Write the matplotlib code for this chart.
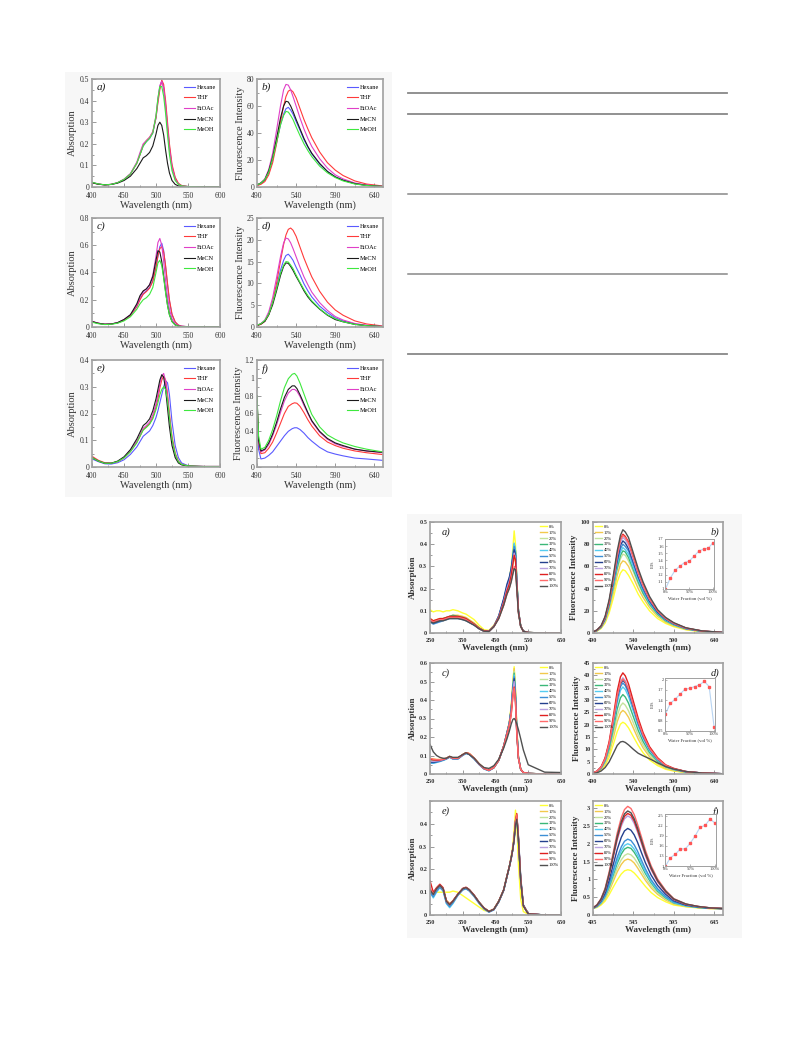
import matplotlib
matplotlib.use("Agg")
import matplotlib.pyplot as plt
from matplotlib.ticker import AutoMinorLocator, FuncFormatter
from matplotlib.patches import Rectangle
from matplotlib.lines import Line2D

plt.rcParams['font.family'] = ['Liberation Serif', 'DejaVu Serif']
plt.rcParams['mathtext.fontset'] = 'stix'

# ================= top-left figure: solvent series =================
solvents = ['Hexane', 'THF', 'EtOAc', 'MeCN', 'MeOH']
solvent_colors = ['#5a5aff', '#ff3a3a', '#e040c8', '#1a1a1a', '#3ee83e']

wl_abs_top = [400, 410, 420, 430, 440, 450, 460, 470, 475, 480, 485, 490, 495, 500, 503, 506,
              509, 512, 515, 518, 521, 525, 530, 535, 540, 550, 575, 600]
abs_a_top = [
    [.02, .013, .01, .012, .02, .035, .06, .11, .15, .19, .21, .225, .25, .32, .40, .465, .49, .46, .38, .28, .185, .095, .04, .015, .006, .002, 0, 0],
    [.02, .013, .01, .012, .02, .035, .06, .11, .15, .195, .215, .23, .255, .32, .39, .45, .495, .475, .40, .30, .20, .105, .045, .017, .007, .002, 0, 0],
    [.022, .014, .01, .012, .02, .036, .062, .115, .16, .20, .215, .23, .255, .33, .41, .47, .49, .455, .37, .27, .175, .09, .035, .013, .005, .002, 0, 0],
    [.02, .013, .01, .012, .018, .03, .05, .085, .11, .135, .145, .16, .19, .245, .285, .30, .285, .24, .17, .11, .065, .03, .012, .005, .002, 0, 0, 0],
    [.022, .014, .01, .012, .02, .035, .06, .11, .15, .19, .21, .225, .25, .33, .41, .465, .465, .42, .34, .24, .15, .075, .03, .012, .005, .002, 0, 0],
]
abs_c_top = [
    [.04, .027, .02, .022, .03, .05, .085, .15, .205, .245, .265, .29, .34, .44, .52, .59, .615, .56, .44, .31, .19, .09, .035, .013, .006, .002, 0, 0],
    [.04, .027, .02, .022, .03, .05, .085, .15, .20, .24, .26, .285, .335, .44, .52, .575, .59, .55, .45, .32, .20, .095, .038, .014, .006, .002, 0, 0],
    [.04, .028, .02, .022, .032, .055, .09, .16, .22, .26, .28, .31, .38, .52, .62, .65, .60, .48, .34, .22, .13, .06, .022, .01, .005, .002, 0, 0],
    [.04, .027, .02, .022, .032, .055, .09, .17, .23, .265, .28, .31, .37, .49, .56, .55, .48, .37, .26, .16, .09, .04, .015, .006, .003, .001, 0, 0],
    [.035, .024, .018, .02, .028, .045, .075, .13, .17, .20, .215, .24, .29, .40, .47, .49, .45, .36, .25, .16, .09, .04, .015, .006, .003, .001, 0, 0],
]
abs_e_top = [
    [.03, .02, .012, .011, .016, .027, .047, .075, .095, .115, .125, .135, .155, .185, .21, .24, .27, .30, .322, .315, .27, .17, .08, .035, .015, .005, .002, .002],
    [.04, .025, .016, .015, .02, .034, .058, .093, .115, .14, .15, .162, .185, .225, .255, .295, .325, .34, .325, .275, .20, .115, .052, .022, .01, .004, .002, .002],
    [.035, .022, .014, .014, .02, .035, .06, .097, .12, .145, .155, .168, .195, .235, .27, .31, .34, .35, .32, .26, .18, .10, .045, .02, .01, .004, .002, .002],
    [.035, .022, .014, .014, .022, .038, .065, .105, .13, .155, .165, .18, .21, .255, .29, .325, .345, .335, .29, .22, .15, .08, .035, .015, .008, .003, .001, .001],
    [.035, .022, .014, .014, .02, .034, .057, .09, .115, .138, .148, .16, .18, .215, .24, .27, .29, .30, .29, .25, .185, .105, .048, .02, .01, .004, .002, .002],
]

wl_fl_top = [490, 495, 500, 505, 510, 515, 520, 524, 527, 530, 533, 536, 540, 545, 550, 555,
             560, 570, 580, 590, 600, 615, 630, 650]
fl_b_top = [
    [1.2, 2.5, 5, 10.5, 20, 33, 46, 54, 58, 59, 57, 54, 48.5, 42, 35, 29.5, 24.5, 17, 11.5, 7.5, 5, 2.5, 1.2, 0.4],
    [1, 2, 4, 9, 18, 32, 48, 60, 67, 71, 72, 70.5, 66, 58, 50, 43, 36.5, 26, 18, 12.5, 8.5, 4.5, 2.2, 0.8],
    [1.5, 3, 6, 13, 25, 42, 60, 72, 76, 75.5, 72, 67, 60, 51, 43, 36, 30, 21, 14, 9, 6, 3, 1.5, 0.5],
    [1.5, 3, 5.5, 12, 22, 36, 51, 60, 63.5, 63, 60, 56, 50, 43, 36, 30, 25, 17.5, 11.5, 7.5, 5, 2.5, 1.2, 0.4],
    [1.5, 2.8, 5.5, 11, 21, 33, 46, 53, 56, 55.5, 53, 50, 44.5, 38, 32, 27, 22.5, 15.5, 10.5, 7, 4.5, 2.2, 1.1, 0.4],
]
fl_d_top = [
    [0.35, 0.7, 1.4, 3, 5.7, 9.3, 13, 15.3, 16.4, 16.7, 16.1, 15.3, 13.7, 11.9, 9.9, 8.3, 6.9, 4.8, 3.3, 2.1, 1.4, 0.7, 0.35, 0.1],
    [0.3, 0.6, 1.3, 2.8, 5.7, 10.1, 15.1, 18.9, 21.1, 22.4, 22.7, 22.2, 20.8, 18.3, 15.8, 13.6, 11.5, 8.2, 5.7, 3.9, 2.7, 1.4, 0.7, 0.25],
    [0.4, 0.8, 1.6, 3.5, 6.7, 11.3, 16.1, 19.3, 20.4, 20.2, 19.3, 18, 16.1, 13.7, 11.5, 9.7, 8, 5.6, 3.8, 2.4, 1.6, 0.8, 0.4, 0.15],
    [0.35, 0.7, 1.3, 2.8, 5.1, 8.3, 11.8, 13.9, 14.7, 14.6, 13.9, 13, 11.6, 10, 8.3, 6.9, 5.8, 4.1, 2.7, 1.7, 1.2, 0.6, 0.3, 0.1],
    [0.4, 0.75, 1.5, 2.9, 5.6, 8.8, 12.3, 14.2, 15, 14.9, 14.2, 13.4, 11.9, 10.2, 8.6, 7.2, 6, 4.2, 2.8, 1.9, 1.2, 0.6, 0.3, 0.1],
]
wl_fl_f_top = [490, 492, 495, 500, 505, 510, 515, 520, 525, 530, 535, 538, 541, 545, 550, 555,
               560, 570, 580, 590, 600, 615, 630, 650]
fl_f_top = [
    [.7, .2, .09, .1, .13, .17, .23, .29, .35, .4, .43, .44, .44, .42, .38, .33, .29, .22, .17, .145, .125, .1, .09, .075],
    [.75, .28, .15, .16, .21, .28, .38, .49, .6, .68, .71, .72, .715, .68, .61, .53, .46, .35, .28, .24, .21, .18, .16, .14],
    [.8, .3, .17, .19, .25, .35, .47, .61, .74, .83, .87, .87, .85, .79, .69, .6, .51, .39, .31, .26, .23, .2, .18, .16],
    [.8, .3, .18, .2, .27, .37, .5, .65, .78, .87, .91, .91, .88, .81, .71, .61, .52, .4, .32, .27, .24, .2, .18, .165],
    [.8, .35, .2, .22, .3, .42, .57, .74, .89, .99, 1.04, 1.05, 1.02, .94, .82, .7, .59, .45, .36, .31, .27, .23, .2, .17],
]

# ================= bottom-right figure: water fraction series =================
water_labels = ['0%', '10%', '20%', '30%', '40%', '50%', '60%', '70%', '80%', '90%', '100%']
water_colors = ['#ffff33', '#f2c94c', '#c3e39c', '#3bb878', '#55ccf0', '#3d8fd6',
                '#24408e', '#b9a2e0', '#e02020', '#ff6a6a', '#505050']

wl_abs_bot = [250, 260, 270, 280, 290, 300, 310, 320, 335, 350, 360, 370, 385, 400, 415, 430,
              445, 460, 475, 485, 492, 498, 503, 507, 511, 515, 520, 527, 535, 550, 600, 650]
abs_a_bot = [
    [.105, .095, .10, .10, .095, .10, .10, .105, .10, .09, .085, .075, .06, .035, .015, .012, .035, .075, .14, .20, .24, .30, .38, .46, .40, .25, .10, .03, .008, .002, 0, 0],
    [.065, .055, .06, .065, .065, .07, .075, .08, .08, .075, .07, .06, .045, .025, .01, .008, .03, .07, .13, .19, .225, .27, .31, .34, .32, .22, .10, .03, .008, .002, 0, 0],
    [.06, .05, .055, .06, .06, .065, .07, .075, .075, .07, .065, .055, .04, .022, .01, .008, .03, .07, .13, .19, .22, .27, .33, .40, .37, .24, .10, .03, .008, .002, 0, 0],
    [.065, .05, .055, .06, .065, .07, .075, .08, .075, .07, .065, .055, .04, .022, .01, .008, .03, .07, .14, .2, .23, .28, .34, .40, .37, .24, .10, .03, .008, .002, 0, 0],
    [.055, .045, .05, .055, .06, .065, .07, .07, .07, .065, .06, .05, .037, .02, .008, .007, .03, .075, .15, .21, .24, .29, .35, .405, .37, .24, .10, .03, .008, .002, 0, 0],
    [.05, .04, .045, .05, .055, .06, .065, .065, .065, .06, .055, .047, .035, .019, .008, .007, .03, .075, .15, .21, .245, .29, .35, .39, .36, .235, .10, .03, .008, .002, 0, 0],
    [.055, .045, .05, .055, .06, .065, .07, .07, .07, .065, .06, .05, .037, .02, .008, .007, .03, .078, .155, .22, .25, .29, .34, .375, .35, .23, .10, .03, .008, .002, 0, 0],
    [.06, .05, .055, .06, .06, .065, .07, .07, .07, .065, .06, .05, .037, .02, .008, .007, .03, .072, .14, .2, .23, .27, .32, .36, .34, .225, .10, .03, .008, .002, 0, 0],
    [.065, .055, .06, .065, .065, .07, .075, .075, .075, .07, .065, .055, .04, .022, .01, .008, .03, .07, .135, .19, .22, .26, .31, .35, .33, .22, .10, .03, .008, .002, 0, 0],
    [.06, .05, .055, .06, .06, .065, .07, .07, .07, .065, .06, .05, .037, .02, .008, .007, .028, .065, .125, .175, .2, .235, .27, .30, .29, .2, .09, .03, .008, .002, 0, 0],
    [.05, .045, .05, .055, .055, .06, .065, .065, .065, .06, .055, .047, .035, .019, .008, .007, .028, .065, .125, .175, .2, .23, .265, .29, .285, .2, .09, .03, .008, .002, 0, 0],
]
abs_c_bot = [
    [.08, .08, .078, .078, .08, .085, .095, .085, .085, .105, .115, .11, .085, .055, .03, .02, .035, .075, .15, .225, .28, .37, .50, .58, .46, .25, .09, .025, .008, .003, 0, 0],
    [.085, .08, .078, .078, .08, .085, .095, .085, .085, .105, .115, .11, .085, .055, .03, .02, .035, .075, .15, .22, .275, .36, .49, .57, .45, .25, .09, .025, .008, .003, 0, 0],
    [.075, .072, .072, .074, .078, .084, .094, .084, .084, .104, .114, .108, .084, .054, .03, .02, .035, .075, .15, .22, .27, .355, .48, .555, .44, .245, .09, .025, .008, .003, 0, 0],
    [.07, .068, .07, .072, .077, .083, .093, .083, .083, .103, .113, .107, .083, .053, .029, .019, .035, .075, .15, .22, .27, .35, .47, .545, .43, .24, .09, .025, .008, .003, 0, 0],
    [.06, .058, .062, .067, .073, .08, .09, .08, .08, .1, .11, .105, .08, .05, .027, .017, .033, .073, .148, .218, .268, .345, .465, .535, .425, .24, .09, .025, .008, .003, 0, 0],
    [.06, .06, .064, .069, .075, .082, .092, .082, .082, .102, .112, .106, .082, .052, .028, .018, .034, .074, .15, .22, .27, .345, .46, .525, .42, .235, .09, .025, .008, .003, 0, 0],
    [.065, .064, .067, .071, .076, .083, .093, .083, .083, .103, .113, .107, .083, .053, .029, .019, .035, .075, .152, .225, .275, .35, .46, .515, .41, .23, .09, .025, .008, .003, 0, 0],
    [.07, .068, .07, .072, .077, .083, .093, .083, .083, .103, .113, .107, .083, .053, .029, .019, .035, .075, .15, .22, .27, .34, .45, .50, .40, .225, .085, .025, .008, .003, 0, 0],
    [.08, .076, .075, .076, .079, .085, .095, .085, .085, .105, .115, .11, .085, .055, .03, .02, .035, .075, .15, .215, .26, .325, .42, .47, .39, .22, .085, .025, .008, .003, 0, 0],
    [.085, .08, .078, .078, .08, .085, .095, .085, .085, .105, .115, .11, .085, .055, .03, .02, .035, .075, .148, .212, .258, .32, .415, .465, .385, .22, .085, .025, .008, .003, 0, 0],
    [.16, .12, .10, .09, .085, .085, .095, .09, .09, .105, .115, .105, .085, .055, .035, .03, .045, .08, .14, .19, .23, .27, .295, .30, .29, .27, .24, .19, .13, .05, .01, .008],
]
abs_e_bot = [
    [.10, .095, .10, .10, .10, .10, .10, .105, .10, .085, .075, .065, .05, .035, .02, .015, .025, .06, .11, .17, .21, .26, .31, .38, .46, .40, .22, .07, .015, .003, 0, 0],
    [.105, .092, .11, .125, .112, .065, .05, .063, .09, .112, .117, .108, .084, .055, .03, .016, .026, .06, .11, .17, .21, .25, .29, .34, .41, .44, .33, .15, .04, .005, 0, 0],
    [.10, .088, .11, .125, .11, .06, .045, .06, .09, .113, .118, .109, .084, .055, .03, .015, .025, .06, .11, .17, .21, .25, .29, .34, .41, .435, .33, .15, .04, .005, 0, 0],
    [.105, .09, .115, .13, .115, .06, .045, .06, .09, .115, .12, .11, .085, .055, .03, .015, .025, .06, .11, .17, .21, .25, .29, .34, .41, .43, .33, .15, .04, .005, 0, 0],
    [.10, .075, .10, .12, .105, .05, .032, .05, .085, .11, .115, .105, .08, .05, .026, .012, .022, .057, .107, .167, .207, .247, .287, .337, .405, .43, .335, .155, .042, .005, 0, 0],
    [.10, .08, .105, .122, .108, .053, .037, .054, .087, .11, .115, .106, .082, .052, .027, .013, .023, .058, .108, .168, .208, .248, .288, .338, .405, .43, .335, .155, .042, .005, 0, 0],
    [.11, .09, .115, .13, .115, .06, .045, .06, .09, .115, .12, .11, .085, .055, .03, .015, .024, .058, .108, .168, .21, .252, .29, .33, .40, .435, .345, .165, .045, .006, 0, 0],
    [.11, .09, .115, .13, .115, .06, .045, .06, .09, .115, .12, .11, .085, .055, .03, .015, .025, .06, .11, .17, .21, .25, .29, .34, .41, .435, .335, .152, .04, .005, 0, 0],
    [.15, .10, .12, .135, .12, .063, .048, .062, .092, .117, .122, .112, .087, .056, .031, .016, .026, .061, .111, .171, .211, .251, .291, .341, .415, .445, .34, .155, .042, .005, 0, 0],
    [.12, .092, .115, .13, .115, .06, .045, .06, .09, .115, .12, .11, .085, .055, .03, .015, .025, .06, .11, .17, .21, .25, .29, .34, .41, .44, .335, .15, .04, .005, 0, 0],
    [.11, .09, .115, .13, .115, .06, .045, .06, .09, .115, .12, .11, .085, .055, .03, .015, .025, .06, .11, .17, .21, .25, .29, .33, .395, .42, .33, .15, .04, .005, 0, 0],
]

wl_fl_bot = [490, 495, 500, 505, 510, 515, 520, 524, 527, 530, 534, 540, 546, 552, 560, 570, 580, 590, 605, 625, 651]
fl_b_bot = [
    [0.6, 1.7, 4, 9, 18, 31, 46, 54, 57, 56, 52, 44, 35, 28, 20, 13, 8.6, 5.7, 2.9, 1.1, 0.3],
    [0.7, 2, 4.6, 10, 21, 36, 52, 62, 65, 64, 60, 50, 40, 32, 23, 15, 9.8, 6.5, 3.3, 1.3, 0.3],
    [0.7, 2.1, 5, 11, 23, 39, 57, 67, 71, 70, 65, 55, 44, 35, 25, 16, 10.7, 7.1, 3.6, 1.4, 0.4],
    [0.7, 2.2, 5.2, 12, 24, 41, 59, 70, 74, 73, 68, 57, 46, 36, 26, 17, 11, 7.4, 3.7, 1.5, 0.4],
    [0.8, 2.3, 5.4, 12, 25, 42, 62, 73, 77, 75, 71, 59, 48, 38, 27, 18, 11.6, 7.7, 3.9, 1.5, 0.4],
    [0.8, 2.4, 5.6, 13, 26, 44, 64, 76, 80, 78, 74, 62, 50, 39, 28, 18, 12, 8, 4, 1.6, 0.4],
    [0.8, 2.5, 5.8, 13, 27, 46, 66, 79, 83, 81, 76, 64, 51, 41, 29, 19, 12.5, 8.3, 4.2, 1.7, 0.4],
    [0.9, 2.6, 6, 14, 28, 47, 69, 82, 86, 84, 79, 66, 53, 42, 30, 20, 13, 8.6, 4.3, 1.7, 0.4],
    [0.9, 2.7, 6.2, 14, 28, 49, 71, 85, 89, 87, 82, 69, 55, 44, 31, 20, 13.4, 8.9, 4.5, 1.8, 0.4],
    [0.9, 2.6, 6.2, 14, 28, 48, 70, 84, 88, 86, 81, 68, 55, 43, 31, 20, 13.2, 8.8, 4.4, 1.8, 0.4],
    [0.9, 2.8, 6.5, 15, 30, 51, 74, 88, 93, 91, 86, 72, 58, 46, 33, 21, 14, 9.3, 4.7, 1.9, 0.5],
]
fl_d_bot = [
    [.2, .6, 1.5, 3.4, 6.7, 11.8, 17.2, 20.2, 21, 20.4, 18.7, 15.1, 11.6, 8.6, 5.7, 3.4, 1.9, 1.2, .5, .2, .1],
    [.3, .8, 1.8, 4.1, 8.3, 14.4, 21.2, 24.8, 25.8, 25, 23, 18.6, 14.2, 10.6, 7, 4.1, 2.3, 1.4, .6, .3, .1],
    [.3, .9, 2, 4.6, 9.2, 16.1, 23.6, 27.6, 28.8, 27.9, 25.6, 20.7, 15.8, 11.8, 7.8, 4.6, 2.6, 1.6, .7, .3, .1],
    [.3, 1, 2.3, 5.2, 10.3, 18, 26.4, 30.9, 32.2, 31.2, 28.7, 23.2, 17.7, 13.2, 8.7, 5.2, 2.9, 1.8, .8, .3, .1],
    [.4, 1.1, 2.5, 5.6, 11.3, 19.8, 28.9, 33.9, 35.3, 34.2, 31.4, 25.4, 19.4, 14.5, 9.5, 5.6, 3.2, 1.9, .9, .4, .1],
    [.4, 1.1, 2.6, 5.9, 11.8, 20.7, 30.3, 35.4, 36.9, 35.8, 32.8, 26.6, 20.3, 15.1, 10, 5.9, 3.3, 2, .9, .4, .1],
    [.4, 1.1, 2.7, 6.1, 12.2, 21.3, 31.2, 36.5, 38, 36.9, 33.8, 27.4, 20.9, 15.6, 10.3, 6.1, 3.4, 2.1, 1, .4, .1],
    [.4, 1.2, 2.7, 6.2, 12.5, 21.8, 32, 37.4, 39, 37.8, 34.7, 28.1, 21.5, 16, 10.5, 6.2, 3.5, 2.1, 1, .4, .1],
    [.4, 1.2, 2.9, 6.6, 13.1, 23, 33.6, 39.4, 41, 39.8, 36.5, 29.5, 22.6, 16.8, 11.1, 6.6, 3.7, 2.3, 1, .4, .1],
    [.4, 1.2, 2.7, 6.2, 12.3, 21.6, 31.6, 37, 38.5, 37.3, 34.3, 27.7, 21.2, 15.8, 10.4, 6.2, 3.5, 2.1, 1, .4, .1],
    [.2, .5, 1.2, 2.6, 4.9, 8.2, 11.6, 13, 13.2, 12.8, 11.8, 10, 8.4, 7.4, 6.2, 4.5, 3, 2, 1, .4, .1],
]
wl_fl_f_bot = [495, 500, 505, 510, 515, 520, 525, 530, 534, 538, 542, 546, 550, 555, 560, 567, 575, 585, 595, 610, 625, 640, 656]
fl_f_bot = [
    [.18, .21, .28, .39, .57, .78, .98, 1.15, 1.24, 1.27, 1.25, 1.18, 1.08, .94, .80, .63, .49, .37, .28, .23, .20, .18, .18],
    [.18, .23, .31, .45, .67, .94, 1.21, 1.42, 1.53, 1.57, 1.54, 1.46, 1.33, 1.15, .97, .76, .58, .42, .31, .24, .21, .18, .18],
    [.19, .23, .33, .48, .73, 1.02, 1.32, 1.55, 1.67, 1.72, 1.69, 1.60, 1.46, 1.26, 1.05, .82, .62, .45, .33, .25, .21, .19, .18],
    [.19, .24, .34, .52, .79, 1.12, 1.45, 1.71, 1.85, 1.9, 1.87, 1.76, 1.61, 1.38, 1.16, .90, .67, .48, .34, .26, .21, .19, .18],
    [.19, .24, .35, .54, .83, 1.18, 1.52, 1.80, 1.95, 2.0, 1.96, 1.85, 1.69, 1.45, 1.21, .94, .70, .50, .35, .26, .22, .19, .18],
    [.19, .25, .37, .56, .88, 1.25, 1.62, 1.91, 2.07, 2.13, 2.09, 1.97, 1.80, 1.54, 1.29, .99, .74, .52, .37, .27, .22, .19, .18],
    [.19, .26, .40, .62, .98, 1.41, 1.84, 2.18, 2.36, 2.43, 2.38, 2.25, 2.05, 1.75, 1.46, 1.12, .83, .58, .40, .28, .23, .19, .18],
    [.2, .27, .43, .69, 1.11, 1.61, 2.10, 2.49, 2.70, 2.78, 2.73, 2.57, 2.34, 2.0, 1.66, 1.27, .93, .64, .43, .3, .24, .2, .18],
    [.2, .28, .44, .71, 1.13, 1.64, 2.15, 2.56, 2.77, 2.85, 2.80, 2.64, 2.39, 2.05, 1.70, 1.30, .95, .65, .44, .3, .24, .2, .18],
    [.2, .29, .46, .75, 1.21, 1.75, 2.30, 2.73, 2.96, 3.05, 2.99, 2.82, 2.56, 2.19, 1.81, 1.38, 1.01, .69, .46, .31, .24, .2, .18],
    [.2, .28, .45, .72, 1.16, 1.68, 2.21, 2.62, 2.84, 2.92, 2.87, 2.70, 2.45, 2.10, 1.74, 1.33, .97, .67, .45, .31, .24, .2, .18],
]

water_frac = [0, 10, 20, 30, 40, 50, 60, 70, 80, 90, 100]
ef_b = [1.0, 1.15, 1.26, 1.32, 1.37, 1.39, 1.46, 1.53, 1.56, 1.57, 1.65]
ef_d = [1.0, 1.31, 1.43, 1.58, 1.72, 1.75, 1.8, 1.85, 1.95, 1.8, 0.63]
ef_f = [1.0, 1.25, 1.35, 1.51, 1.51, 1.68, 1.9, 2.16, 2.21, 2.4, 2.28]

# ================= layout =================
W, H = 792, 1056
fig = plt.figure(figsize=(W / 100, H / 100), dpi=100)


def box(x0, y0, x1, y1):
    return [x0 / W, 1 - y1 / H, (x1 - x0) / W, (y1 - y0) / H]


# light page-figure backgrounds (behind everything)
fig.patches.append(Rectangle((65 / W, 1 - 497 / H), (392 - 65) / W, (497 - 72) / H,
                             transform=fig.transFigure, facecolor='#f7f7f7', edgecolor='none', zorder=-10))
fig.patches.append(Rectangle((407 / W, 1 - 938 / H), (742 - 407) / W, (938 - 514) / H,
                             transform=fig.transFigure, facecolor='#f7f7f7', edgecolor='none', zorder=-10))

# table rules (top right)
for yy, lw in [(92.7, 1.3), (113.7, 1.3), (193.7, 1.1), (274, 1.1), (354, 1.3)]:
    fig.add_artist(Line2D([408 / W, 727 / W], [1 - yy / H, 1 - yy / H], transform=fig.transFigure,
                          color='#888888', lw=lw))

fmt = FuncFormatter(lambda v, p: '%g' % round(v, 6))


def style(ax, xlim, xticks, ylim, yticks, tick_fs, label_fs, xlabel, ylabel, bold=False,
          spine_lw=1.2, ylabelpad=2):
    ax.set_xlim(xlim)
    ax.set_ylim(ylim)
    ax.set_xticks(xticks)
    ax.set_yticks(yticks)
    ax.xaxis.set_minor_locator(AutoMinorLocator(2))
    ax.yaxis.set_minor_locator(AutoMinorLocator(2))
    ax.xaxis.set_major_formatter(fmt)
    ax.yaxis.set_major_formatter(fmt)
    ax.tick_params(which='both', direction='in', color='#999999', labelsize=tick_fs,
                   labelcolor='#333333', width=0.7)
    ax.tick_params(axis='x', which='both', pad=3.5)
    ax.tick_params(axis='y', which='both', pad=2)
    ax.tick_params(which='major', length=3)
    ax.tick_params(which='minor', length=1.6)
    w = 'bold' if bold else 'normal'
    for lab in ax.get_xticklabels() + ax.get_yticklabels():
        lab.set_fontweight(w)
    for s in ax.spines.values():
        s.set_color('#a0a0a0')
        s.set_linewidth(spine_lw)
    ax.set_xlabel(xlabel, fontsize=label_fs, labelpad=0.5, color='#333333', fontweight=w)
    ax.set_ylabel(ylabel, fontsize=label_fs, labelpad=ylabelpad, color='#333333', fontweight=w)


# ---------- top-left figure ----------
top_boxes = {
    'a': (92, 79, 220, 187), 'b': (257, 79, 383, 187),
    'c': (92, 218, 220, 327), 'd': (257, 218, 383, 327),
    'e': (92, 360, 220, 467), 'f': (257, 360, 383, 467),
}
top_specs = [
    ('a', wl_abs_top, abs_a_top, (400, 600), [400, 450, 500, 550, 600], (0, 0.5), [0, .1, .2, .3, .4, .5], 'Absorption'),
    ('b', wl_fl_top, fl_b_top, (490, 651), [490, 540, 590, 640], (0, 80), [0, 20, 40, 60, 80], 'Fluorescence Intensity'),
    ('c', wl_abs_top, abs_c_top, (400, 600), [400, 450, 500, 550, 600], (0, 0.8), [0, .2, .4, .6, .8], 'Absorption'),
    ('d', wl_fl_top, fl_d_top, (490, 651), [490, 540, 590, 640], (0, 25), [0, 5, 10, 15, 20, 25], 'Fluorescence Intensity'),
    ('e', wl_abs_top, abs_e_top, (400, 600), [400, 450, 500, 550, 600], (0, 0.4), [0, .1, .2, .3, .4], 'Absorption'),
    ('f', wl_fl_f_top, fl_f_top, (490, 651), [490, 540, 590, 640], (0, 1.2), [0, .2, .4, .6, .8, 1.0, 1.2], 'Fluorescence Intensity'),
]
for key, wl, rows, xl, xt, yl, yt, ylab in top_specs:
    ax = fig.add_axes(box(*top_boxes[key]))
    for name, col, vals in zip(solvents, solvent_colors, rows):
        ax.plot(wl, vals, color=col, lw=0.8, label=name)
    style(ax, xl, xt, yl, yt, 5.5, 7.5, 'Wavelength (nm)', ylab,
          ylabelpad=1 if key in ('b', 'd', 'f') else 2)
    ax.text(0.04, 0.965, key + ')', transform=ax.transAxes, fontsize=8, style='italic',
            va='top', ha='left', color='#222222')
    ax.legend(loc='upper right', bbox_to_anchor=(1.0, 0.985), fontsize=4.5, frameon=False,
              handlelength=1.7, handletextpad=0.4, labelspacing=0.85, borderaxespad=0.2)

# ---------- bottom-right figure ----------
bot_boxes = {
    'a': (430, 522, 561, 633), 'b': (593, 522, 723, 633),
    'c': (430, 663, 561, 774), 'd': (593, 663, 723, 774),
    'e': (430, 801, 561, 915), 'f': (593, 801, 723, 915),
}
abs_xt = [250, 350, 450, 550, 650]
bot_specs = [
    ('a', wl_abs_bot, abs_a_bot, (250, 650), abs_xt, (0, 0.5), [0, .1, .2, .3, .4, .5], 'Absorption'),
    ('b', wl_fl_bot, fl_b_bot, (490, 651), [490, 540, 590, 640], (0, 100), [0, 20, 40, 60, 80, 100], 'Fluorescence Intensity'),
    ('c', wl_abs_bot, abs_c_bot, (250, 650), abs_xt, (0, 0.6), [0, .1, .2, .3, .4, .5, .6], 'Absorption'),
    ('d', wl_fl_bot, fl_d_bot, (490, 651), [490, 540, 590, 640], (0, 45), [0, 5, 10, 15, 20, 25, 30, 35, 40, 45], 'Fluorescence Intensity'),
    ('e', wl_abs_bot, abs_e_bot, (250, 650), abs_xt, (0, 0.5), [0, .1, .2, .3, .4], 'Absorption'),
    ('f', wl_fl_f_bot, fl_f_bot, (495, 656), [495, 545, 595, 645], (0, 3.2), [0, .5, 1, 1.5, 2, 2.5, 3], 'Fluorescence Intensity'),
]
for key, wl, rows, xl, xt, yl, yt, ylab in bot_specs:
    ax = fig.add_axes(box(*bot_boxes[key]))
    for name, col, vals in zip(water_labels, water_colors, rows):
        ax.plot(wl, vals, color=col, lw=1.0, label=name)
    style(ax, xl, xt, yl, yt, 4.5, 6.5, 'Wavelength (nm)', ylab, bold=True)
    left = key in ('a', 'c', 'e')
    if left:
        ax.text(0.09, 0.95, key + ')', transform=ax.transAxes, fontsize=7.5, style='italic',
                va='top', ha='left', color='#222222')
        ax.legend(loc='upper right', bbox_to_anchor=(1.0, 1.0), fontsize=3.2, frameon=False,
                  handlelength=1.4, handletextpad=0.4, labelspacing=0.42, borderaxespad=0.15)
    else:
        ax.text(0.97, 0.95, key + ')', transform=ax.transAxes, fontsize=7.5, style='italic',
                va='top', ha='right', color='#222222')
        ax.legend(loc='upper left', bbox_to_anchor=(0.0, 1.0), fontsize=3.2, frameon=False,
                  handlelength=1.4, handletextpad=0.4, labelspacing=0.42, borderaxespad=0.15)

# insets
inset_specs = [
    ((665, 539, 714, 589), ef_b, (1.0, 1.7), [1, 1.1, 1.2, 1.3, 1.4, 1.5, 1.6, 1.7]),
    ((665, 678, 715, 731), ef_d, (0.5, 2.05), [0.5, 0.8, 1.1, 1.4, 1.7, 2.0]),
    ((665, 814, 716, 866), ef_f, (1.0, 2.55), [1, 1.3, 1.6, 1.9, 2.2, 2.5]),
]
for bx, ef, yl, yt in inset_specs:
    ia = fig.add_axes(box(*bx))
    ia.plot(water_frac, ef, color='#b8d4f2', lw=0.8, zorder=1)
    ia.plot(water_frac, ef, ls='none', marker='s', ms=1.5, color='#ff5555', zorder=2)
    ia.set_xlim(-1, 102)
    ia.set_ylim(yl)
    ia.set_xticks([0, 50, 100])
    ia.set_xticklabels(['0%', '50%', '100%'])
    ia.set_yticks(yt)
    ia.yaxis.set_major_formatter(fmt)
    ia.tick_params(direction='in', length=1.5, width=0.5, color='#999999', labelsize=3.2,
                   labelcolor='#333333', pad=1)
    for s in ia.spines.values():
        s.set_color('#a0a0a0')
        s.set_linewidth(0.7)
    ia.set_xlabel('Water Fraction (vol %)', fontsize=3.4, labelpad=1, color='#333333')
    ia.set_ylabel(r'EF$_\mathregular{s}$', fontsize=3.6, labelpad=1, color='#333333')

fig.savefig('out.png', dpi=100)
